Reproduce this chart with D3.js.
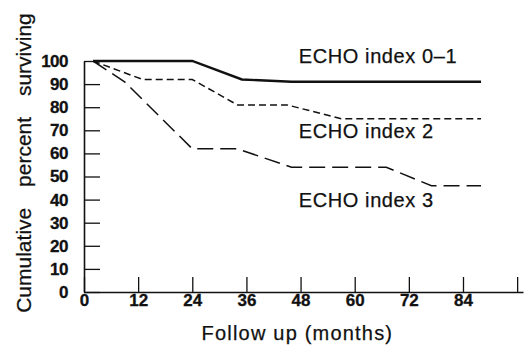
<!DOCTYPE html>
<html>
<head>
<meta charset="utf-8">
<script src="https://cdn.jsdelivr.net/npm/d3@7"></script>
<style>
  body { margin: 0; background: #fff; }
  svg { display: block; font-family: "Liberation Sans", Arial, sans-serif; }
</style>
</head>
<body>
<svg id="chart"></svg>
<script>
// data (months, cumulative % surviving)
const monthTicks = [0, 12, 24, 36, 48, 60, 72, 84, 96];
const pctTicks = [0, 10, 20, 30, 40, 50, 60, 70, 80, 90, 100];

const echo01Months = [2, 24, 35, 46, 88];
const echo01Values = [100, 100, 92, 91, 91];

const echo2Months = [2, 13, 24, 34, 45, 57, 88];
const echo2Values = [100, 92, 92, 81, 81, 75, 75];

const echo3Months = [2, 9, 24, 34, 46, 67, 77, 88];
const echo3Values = [100, 91, 62, 62, 54, 54, 46, 46];

const seriesNames = ["ECHO index 0\u20131", "ECHO index 2", "ECHO index 3"];

const config = {
  width: 531,
  height: 345,
  margin: { top: 61, right: 8, bottom: 53, left: 84 }
};

const ink = "#111";

const svg = d3.select("#chart").attr("width", config.width).attr("height", config.height);

const x = d3.scaleLinear()
  .domain([0, 97.3])
  .range([config.margin.left, config.width - config.margin.right]);

const y = d3.scaleLinear()
  .domain([0, 100])
  .range([config.height - config.margin.bottom, config.margin.top]);

// y axis, ticks pointing inwards
const yAxis = svg.append("g")
  .attr("transform", `translate(${x(0)},0)`)
  .call(d3.axisLeft(y).tickValues(pctTicks).tickSizeInner(-16).tickSizeOuter(0).tickPadding(16));

// x axis, ticks pointing up
const xAxis = svg.append("g")
  .attr("transform", `translate(0,${y(0)})`)
  .call(d3.axisBottom(x).tickValues(monthTicks).tickSizeInner(-15).tickSizeOuter(0).tickPadding(2)
    .tickFormat(d => d === 96 ? "" : d));

[yAxis, xAxis].forEach(g => {
  g.select(".domain").attr("stroke", ink).attr("stroke-width", 1.6);
  g.selectAll(".tick line").attr("stroke", ink).attr("stroke-width", 1.3);
  g.selectAll(".tick text")
    .attr("fill", ink)
    .attr("stroke", ink)
    .attr("stroke-width", 0.3)
    .style("font-size", "17px")
    .style("font-weight", "bold");
});
yAxis.selectAll(".tick text").attr("letter-spacing", -0.5);

// survival lines
const series = [
  { months: echo01Months, values: echo01Values, dash: null, width: 2.4 },
  { months: echo2Months, values: echo2Values, dash: "7,4", width: 1.5 },
  { months: echo3Months, values: echo3Values, dash: "16,7", width: 1.5 }
];

const line = d3.line()
  .x(d => x(d[0]))
  .y(d => y(d[1]));

svg.append("g")
  .selectAll("path")
  .data(series)
  .enter()
  .append("path")
  .attr("d", s => line(s.months.map((m, i) => [m, s.values[i]])))
  .attr("fill", "none")
  .attr("stroke", ink)
  .attr("stroke-width", s => s.width)
  .attr("stroke-dasharray", s => s.dash);

// series labels
const labelY = [99, 66.5, 37];
svg.append("g")
  .selectAll("text")
  .data(seriesNames)
  .enter()
  .append("text")
  .attr("x", x(47.6))
  .attr("y", (d, i) => y(labelY[i]))
  .attr("fill", ink)
  .attr("stroke", ink)
  .attr("stroke-width", 0.25)
  .style("font-size", "20px")
  .attr("letter-spacing", 0.6)
  .text(d => d);

// axis titles
svg.append("text")
  .attr("x", x(47.3))
  .attr("y", 340)
  .attr("text-anchor", "middle")
  .attr("fill", ink)
  .attr("stroke", ink)
  .attr("stroke-width", 0.25)
  .style("font-size", "20px")
  .attr("letter-spacing", 1.2)
  .text("Follow up (months)");

svg.append("text")
  .attr("transform", "translate(31,163) rotate(-90)")
  .attr("text-anchor", "middle")
  .attr("fill", ink)
  .attr("stroke", ink)
  .attr("stroke-width", 0.25)
  .style("font-size", "21px")
  .attr("word-spacing", 15)
  .text("Cumulative percent surviving");
</script>
</body>
</html>
